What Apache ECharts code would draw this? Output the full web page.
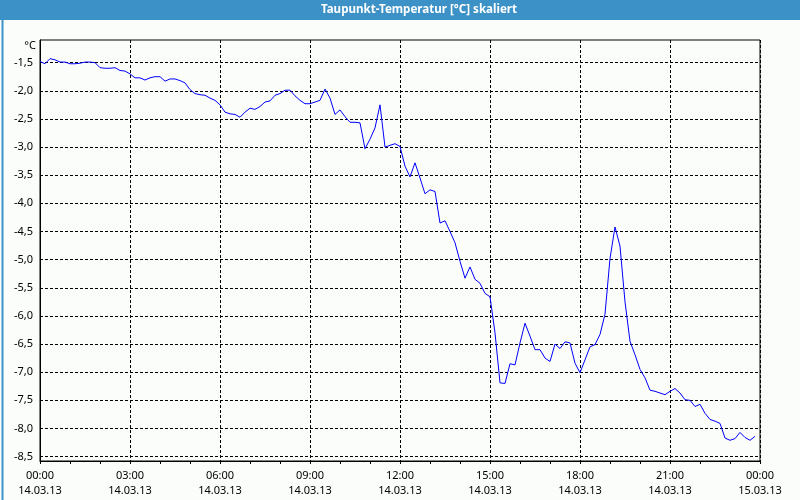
<!DOCTYPE html>
<html>
<head>
<meta charset="utf-8">
<script src="https://cdn.jsdelivr.net/npm/echarts@6/dist/echarts.min.js"></script>
<style>
html,body{margin:0;padding:0;background:#fbfdfb;}
#chart{width:800px;height:500px;}
</style>
</head>
<body>
<div id="chart"></div>
<script>
// Dew point (°C), one reading every 10 minutes starting 14.03.13 00:00
const stepMinutes = 10;
const dewPoint = [
  -1.48,-1.52,-1.43,-1.45,-1.49,-1.49,-1.52,-1.52,-1.51,-1.49,-1.49,-1.50,
  -1.59,-1.60,-1.60,-1.59,-1.64,-1.65,-1.70,-1.77,-1.77,-1.81,-1.77,-1.75,
  -1.75,-1.83,-1.79,-1.79,-1.82,-1.86,-1.98,-2.05,-2.07,-2.08,-2.13,-2.17,
  -2.25,-2.38,-2.41,-2.42,-2.47,-2.38,-2.31,-2.33,-2.28,-2.20,-2.18,-2.08,
  -2.05,-1.99,-1.99,-2.09,-2.17,-2.23,-2.23,-2.20,-2.17,-1.97,-2.13,-2.42,
  -2.34,-2.46,-2.56,-2.56,-2.57,-3.03,-2.86,-2.66,-2.25,-3.00,-2.97,-2.94,
  -2.99,-3.34,-3.53,-3.28,-3.55,-3.83,-3.76,-3.79,-4.35,-4.31,-4.50,-4.70,
  -5.03,-5.33,-5.13,-5.35,-5.42,-5.60,-5.66,-6.30,-7.19,-7.20,-6.85,-6.87,
  -6.48,-6.13,-6.36,-6.60,-6.60,-6.75,-6.81,-6.50,-6.58,-6.46,-6.48,-6.84,
  -7.01,-6.78,-6.55,-6.51,-6.33,-5.97,-4.98,-4.42,-4.76,-5.75,-6.45,-6.69,
  -6.95,-7.10,-7.32,-7.34,-7.37,-7.40,-7.34,-7.29,-7.37,-7.49,-7.50,-7.61,
  -7.57,-7.73,-7.84,-7.87,-7.91,-8.17,-8.21,-8.18,-8.07,-8.16,-8.21,-8.14
];
const xTickTimes = ['00:00','03:00','06:00','09:00','12:00','15:00','18:00','21:00','00:00'];
const xTickDates = ['14.03.13','14.03.13','14.03.13','14.03.13','14.03.13','14.03.13','14.03.13','14.03.13','15.03.13'];
const yTickValues = [-8.5,-8.0,-7.5,-7.0,-6.5,-6.0,-5.5,-5.0,-4.5,-4.0,-3.5,-3.0,-2.5,-2.0,-1.5];
const titleText = 'Taupunkt-Temperatur [°C] skaliert';
const unitText = '°C';

const seriesData = dewPoint.map((v, i) => [i * stepMinutes, v]);

const chart = echarts.init(document.getElementById('chart'), null, {renderer: 'canvas'});
const labelFont = {fontFamily: 'Noto Sans', fontSize: 11, color: '#000'};
chart.setOption({
  animation: false,
  backgroundColor: '#fbfdfb',
  grid: {left: 40, right: 40, top: 40, bottom: 39, show: true, borderColor: '#000', borderWidth: 1, backgroundColor: '#fbfdfb'},
  xAxis: {
    type: 'value', min: 0, max: 1440, interval: 180,
    axisLine: {show: true, onZero: false, lineStyle: {color: '#000', width: 1}},
    axisTick: {show: true, length: 3, lineStyle: {color: '#000'}},
    minorTick: {show: true, splitNumber: 3, length: 3, lineStyle: {color: '#000'}},
    splitLine: {show: true, lineStyle: {color: '#000', type: [3, 2], width: 1}},
    axisLabel: Object.assign({}, labelFont, {
      margin: 7, lineHeight: 15, showMinLabel: true, showMaxLabel: true,
      formatter: v => { const k = Math.round(v / 180); return xTickTimes[k] + '\n' + xTickDates[k]; }
    })
  },
  yAxis: {
    type: 'value', min: -8.578, max: -1.098,
    axisLine: {show: true, lineStyle: {color: '#000', width: 1}},
    axisTick: {show: false, customValues: yTickValues},
    splitLine: {show: true, lineStyle: {color: '#000', type: [3, 2], width: 1}},
    axisLabel: Object.assign({}, labelFont, {
      margin: 7, customValues: yTickValues,
      formatter: v => v.toFixed(1).replace('.', ',')
    })
  },
  series: [{
    type: 'line', data: seriesData, showSymbol: false, symbol: 'none',
    lineStyle: {color: '#0000ff', width: 1}, z: 5
  }],
  graphic: [
    {type: 'rect', left: 0, top: 0, shape: {width: 800, height: 20}, style: {fill: '#3c91c6'}, z: 10},
    {type: 'rect', left: 0, top: 0, shape: {x: 0.5, y: 0.5, width: 799, height: 499}, style: {fill: null, stroke: '#3c91c6', lineWidth: 2}, z: 10},
    {type: 'text', x: 419, y: 10, style: {text: titleText, fill: '#fff', font: 'bold 11.6px "Noto Sans"', textAlign: 'center', textVerticalAlign: 'middle'}, z: 11},
    {type: 'text', x: 36, y: 46, style: {text: unitText, fill: '#000', font: '11px "Noto Sans"', textAlign: 'right', textVerticalAlign: 'middle'}, z: 11}
  ]
});
</script>
</body>
</html>
